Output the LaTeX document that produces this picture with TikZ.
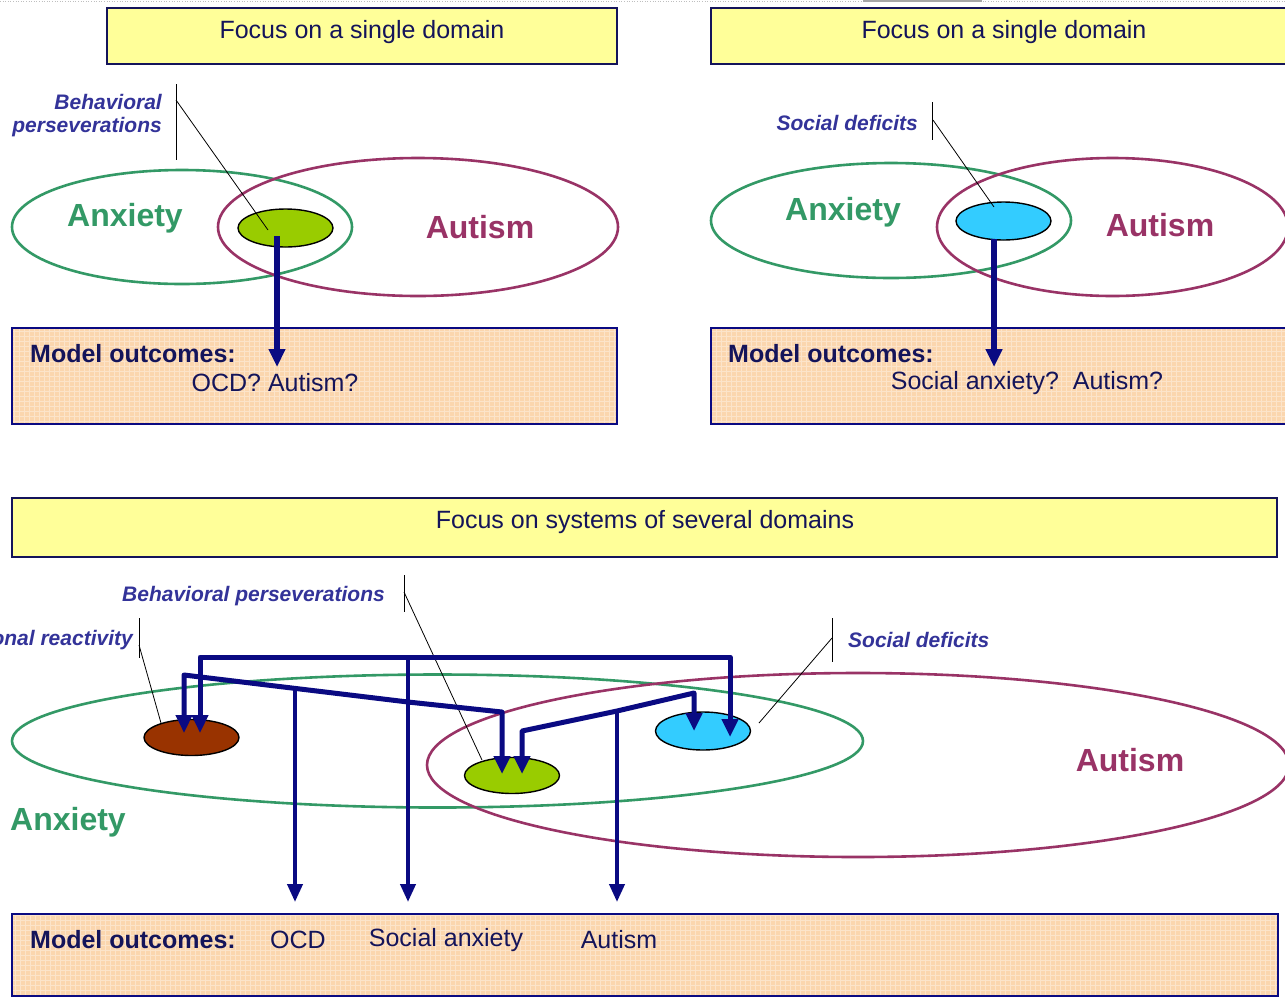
\documentclass[tikz,border=0pt]{standalone}
\usepackage{fontspec}
\setmainfont{Liberation Sans}
\usetikzlibrary{shapes.geometric,arrows.meta}
\definecolor{navy}{HTML}{0A0A82}
\definecolor{txtnavy}{HTML}{14145A}
\definecolor{boxyellow}{HTML}{FFFF99}
\definecolor{boxorange}{HTML}{FBD6AE}
\definecolor{anxgreen}{HTML}{339966}
\definecolor{autred}{HTML}{993366}
\definecolor{limeg}{HTML}{99CC00}
\definecolor{skyc}{HTML}{33CCFF}
\definecolor{rust}{HTML}{993300}
\definecolor{labblue}{HTML}{333399}
\tikzset{
  ybox/.style={draw=txtnavy, line width=1.6pt, fill=boxyellow, inner sep=0pt},
  obox/.style={draw=navy, line width=2.4pt, fill=boxorange, inner sep=0pt,
    path picture={\draw[step=5pt, white, opacity=0.35, line width=0.4pt]
      (path picture bounding box.south west) grid (path picture bounding box.north east);}},
  anxell/.style={ellipse, draw=anxgreen, line width=2.6pt, inner sep=0pt},
  autell/.style={ellipse, draw=autred, line width=2.6pt, inner sep=0pt},
  blob/.style={ellipse, draw=black, line width=1.4pt, inner sep=0pt, minimum width=95pt, minimum height=38pt},
  headtxt/.style={font=\fontsize{25}{29}\selectfont, text=txtnavy},
  anxtxt/.style={font=\fontsize{32}{36}\selectfont\bfseries, text=anxgreen},
  auttxt/.style={font=\fontsize{32}{36}\selectfont\bfseries, text=autred},
  labtxt/.style={font=\fontsize{21}{24}\selectfont\bfseries\itshape, text=labblue, align=right, inner sep=0pt},
  motxt/.style={font=\fontsize{25}{29}\selectfont\bfseries, text=txtnavy, inner sep=0pt},
  outtxt/.style={font=\fontsize{25}{29}\selectfont, text=txtnavy, inner sep=0pt},
  leader/.style={draw=black, line width=0.8pt},
  arr/.style={draw=navy, line width=5.5pt, -{Triangle[width=16pt,length=18pt]}},
  arrboth/.style={draw=navy, line width=5pt, line join=round, {Triangle[width=16pt,length=18pt]}-{Triangle[width=16pt,length=18pt]}},
  thinarr/.style={draw=navy, line width=4pt, -{Triangle[width=15pt,length=18pt]}},
}
\begin{document}
\begin{tikzpicture}[x=1pt,y=-1pt]
\useasboundingbox (0,0) rectangle (1285,997);
\fill[white] (0,0) rectangle (1285,997);
% top fragments
\draw[gray!50, dotted, line width=0.6pt] (0,1) -- (1285,1);
\draw[gray!70, line width=2pt] (863,1) -- (982,1);

% ===== Top-left panel =====
\node[ybox, minimum width=510pt, minimum height=56pt] (tly) at (362,36) {};
\node[headtxt] (tlyt) at (362,32) {Focus on a single domain};
\node[obox, minimum width=605pt, minimum height=96pt] (tlo) at (314.5,376) {};
\node[anxell, minimum width=340pt, minimum height=114pt] (tlanx) at (182,227) {};
\node[autell, minimum width=400pt, minimum height=138pt] (tlaut) at (418,227) {};
\node[anxtxt] (tlanxt) at (125,218) {Anxiety};
\node[auttxt] (tlautt) at (480,227) {Autism};
\node[blob, fill=limeg] (tlbp) at (285.5,228) {};
\node[labtxt, anchor=east] (tlbpl) at (162,116) {Behavioral\\[-1pt]perseverations};
\coordinate (tlbar1) at (176,84);
\coordinate (tlbar2) at (176,160);
\coordinate (tlbarm) at (176,100);
\coordinate (tlbpin) at (268,230);
\draw[leader] (tlbar1) -- (tlbar2);
\draw[leader] (tlbarm) -- (tlbpin);
\node[motxt, anchor=west] (tlmo) at (30,354) {Model outcomes:};
\node[outtxt] (tlout) at (275,383) {OCD? Autism?};
\coordinate (tlarrs) at (277,236);
\coordinate (tlarre) at (277,367);
\draw[arr] (tlarrs) -- (tlarre);

% ===== Top-right panel =====
\node[ybox, minimum width=590pt, minimum height=56pt] (try) at (1006,36) {};
\node[headtxt] (tryt) at (1004,32) {Focus on a single domain};
\node[obox, minimum width=590pt, minimum height=96pt] (tro) at (1006,376) {};
\node[anxell, minimum width=360pt, minimum height=115pt] (tranx) at (891,220.5) {};
\node[autell, minimum width=351pt, minimum height=138pt] (traut) at (1112.5,227) {};
\node[anxtxt] (tranxt) at (843,212) {Anxiety};
\node[auttxt] (trautt) at (1160,225) {Autism};
\node[blob, fill=skyc] (trsd) at (1003.5,221) {};
\node[labtxt, anchor=east] (trsdl) at (918,123) {Social deficits};
\coordinate (trbar1) at (932,102);
\coordinate (trbar2) at (932,140);
\coordinate (trbarm) at (933,120);
\coordinate (trsdin) at (994,207);
\draw[leader] (trbar1) -- (trbar2);
\draw[leader] (trbarm) -- (trsdin);
\node[motxt, anchor=west] (trmo) at (728,354) {Model outcomes:};
\node[outtxt] (trout) at (1027,383) {Social anxiety?\ \ Autism?};
\coordinate (trarrs) at (994,239);
\coordinate (trarre) at (994,367);
\draw[arr] (trarrs) -- (trarre);

% ===== Bottom panel =====
\node[ybox, minimum width=1265pt, minimum height=59pt] (by) at (644.5,527.5) {};
\node[headtxt] (byt) at (645,522) {Focus on systems of several domains};
\node[obox, minimum width=1266pt, minimum height=82pt] (bo) at (645,955) {};
\node[anxell, minimum width=851pt, minimum height=133pt] (banx) at (437.5,741) {};
\node[autell, minimum width=862pt, minimum height=184pt] (baut) at (858,765) {};
\node[anxtxt] (banxt) at (68,822) {Anxiety};
\node[auttxt] (bautt) at (1130,760) {Autism};
\node[blob, fill=rust, minimum height=36pt] (bem) at (191.5,737.5) {};
\node[blob, fill=limeg, minimum height=36pt] (bbp) at (512,775.5) {};
\node[blob, fill=skyc, minimum height=38pt] (bsd) at (703,731) {};

% labels and leaders
\node[labtxt, anchor=east] (bbpl) at (385,596) {Behavioral perseverations};
\coordinate (bbpbar1) at (404,575);
\coordinate (bbpbar2) at (404,612);
\coordinate (bbpbarm) at (404,592);
\coordinate (bbpin) at (482,760);
\draw[leader] (bbpbar1) -- (bbpbar2);
\draw[leader] (bbpbarm) -- (bbpin);

\node[labtxt, anchor=east] (beml) at (133,640) {Emotional reactivity};
\coordinate (bembar1) at (139,618);
\coordinate (bembar2) at (139,658);
\coordinate (bembarm) at (139,645);
\coordinate (bemin) at (161,723);
\draw[leader] (bembar1) -- (bembar2);
\draw[leader] (bembarm) -- (bemin);

\node[labtxt, anchor=west] (bsdl) at (848,640) {Social deficits};
\coordinate (bsdbar1) at (832,618);
\coordinate (bsdbar2) at (832,662);
\coordinate (bsdbarm) at (832,638);
\coordinate (bsdin) at (759,723);
\draw[leader] (bsdbar1) -- (bsdbar2);
\draw[leader] (bsdbarm) -- (bsdin);

% outcome texts
\node[motxt, anchor=west] (bmo) at (30,940) {Model outcomes:};
\node[outtxt] (bocd) at (298,940) {OCD};
\node[outtxt] (bsoc) at (446,940) {Social anxiety};
\node[outtxt] (baut2) at (619,940) {Autism};

% connectors
\coordinate (emA) at (200,733);
\coordinate (emB) at (184,733);
\coordinate (sdA) at (730,737);
\coordinate (sdB) at (694,731);
\coordinate (bpA) at (502,774);
\coordinate (bpB) at (522,774);
\coordinate (bus1) at (200,657);
\coordinate (bus2) at (408,657);
\coordinate (bus3) at (730,657);
\coordinate (p2a) at (184,675);
\coordinate (p2b) at (408,702);
\coordinate (p2c) at (502,712);
\coordinate (p2j) at (295,690);
\coordinate (p3a) at (694,693);
\coordinate (p3j) at (617,711);
\coordinate (p3c) at (522,731);
\coordinate (ocdin) at (295,902);
\coordinate (socin) at (408,902);
\coordinate (autin) at (617,902);

\draw[arrboth] (emA) -- (bus1) -- (bus3) -- (sdA);
\draw[arrboth] (emB) -- (p2a) -- (p2b) -- (p2c) -- (bpA);
\draw[arrboth] (sdB) -- (p3a) -- (p3j) -- (p3c) -- (bpB);
\draw[thinarr] (bus2) -- (socin);
\draw[thinarr] (p2j) -- (ocdin);
\draw[thinarr] (p3j) -- (autin);
\end{tikzpicture}
\end{document}
